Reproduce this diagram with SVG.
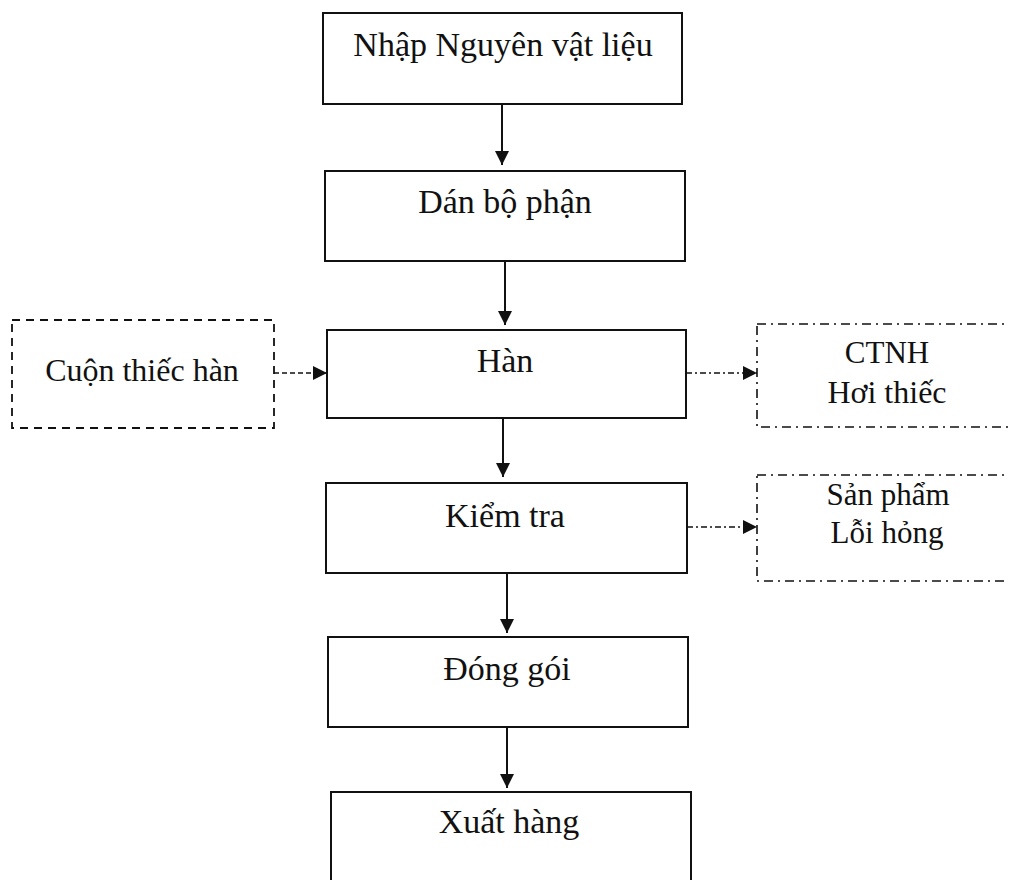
<svg xmlns="http://www.w3.org/2000/svg" width="1009" height="880" viewBox="0 0 1009 880">
<defs>
<style>
.box{fill:#fff;stroke:#111;stroke-width:2}
.dbox{fill:#fff;stroke:#111;stroke-width:1.8;stroke-dasharray:8 6}
.ddbox{fill:#fff;stroke:#111;stroke-width:1.6;stroke-dasharray:9 5 2 5}
.t{font-family:"Liberation Serif","Times New Roman",serif;font-size:34px;fill:#111;text-anchor:middle}
.ts{font-family:"Liberation Serif","Times New Roman",serif;font-size:31px;fill:#111;text-anchor:middle}
.c{stroke:#111;stroke-width:2;fill:none}
.cd{stroke:#111;stroke-width:1.6;fill:none;stroke-dasharray:5 3}
.cdd{stroke:#111;stroke-width:1.6;fill:none;stroke-dasharray:6 3 2 3}
</style>
<marker id="ah" viewBox="0 0 14 14" refX="14" refY="7" markerWidth="14" markerHeight="14" markerUnits="userSpaceOnUse" orient="auto">
<path d="M0,0 L14,7 L0,14 Z" fill="#111"/>
</marker>
</defs>
<rect width="1009" height="880" fill="#fff"/>
<g id="n1"><rect class="box" x="323" y="13" width="359" height="91"/><text class="t" x="503" y="56">Nhập Nguyên vật liệu</text></g>
<g id="n2"><rect class="box" x="325" y="171" width="360" height="90"/><text class="t" x="505" y="213">Dán bộ phận</text></g>
<g id="n3"><rect class="box" x="327" y="330" width="359" height="88"/><text class="t" x="505" y="372">Hàn</text></g>
<g id="n4"><rect class="box" x="326" y="483" width="361" height="90"/><text class="t" x="505" y="527">Kiểm tra</text></g>
<g id="n5"><rect class="box" x="328" y="637" width="360" height="90"/><text class="t" x="507" y="680">Đóng gói</text></g>
<g id="n6"><rect class="box" x="331" y="792" width="360" height="100"/><text class="t" x="509" y="833">Xuất hàng</text></g>
<g id="in1"><rect class="dbox" x="12" y="320" width="262" height="108"/><text class="ts" x="142" y="381" style="font-size:32px">Cuộn thiếc hàn</text></g>
<g id="out1"><rect class="ddbox" x="757" y="324" width="270" height="103"/><text class="ts" x="887" y="363">CTNH</text><text class="ts" x="887" y="403" style="font-size:32px">Hơi thiếc</text></g>
<g id="out2"><rect class="ddbox" x="757" y="475" width="270" height="106"/><text class="ts" x="888" y="505">Sản phẩm</text><text class="ts" x="887" y="543">Lỗi hỏng</text></g>
<g id="connectors">
<line class="c" x1="502" y1="104" x2="502" y2="165" marker-end="url(#ah)"/>
<line class="c" x1="505" y1="261" x2="505" y2="325" marker-end="url(#ah)"/>
<line class="c" x1="503" y1="418" x2="503" y2="477" marker-end="url(#ah)"/>
<line class="c" x1="507" y1="573" x2="507" y2="633" marker-end="url(#ah)"/>
<line class="c" x1="507" y1="727" x2="507" y2="788" marker-end="url(#ah)"/>
<line class="cd" x1="274" y1="373" x2="327" y2="373" marker-end="url(#ah)"/>
<line class="cdd" x1="686" y1="373" x2="757" y2="373" marker-end="url(#ah)"/>
<line class="cdd" x1="687" y1="527" x2="757" y2="527" marker-end="url(#ah)"/>
</g>
</svg>
